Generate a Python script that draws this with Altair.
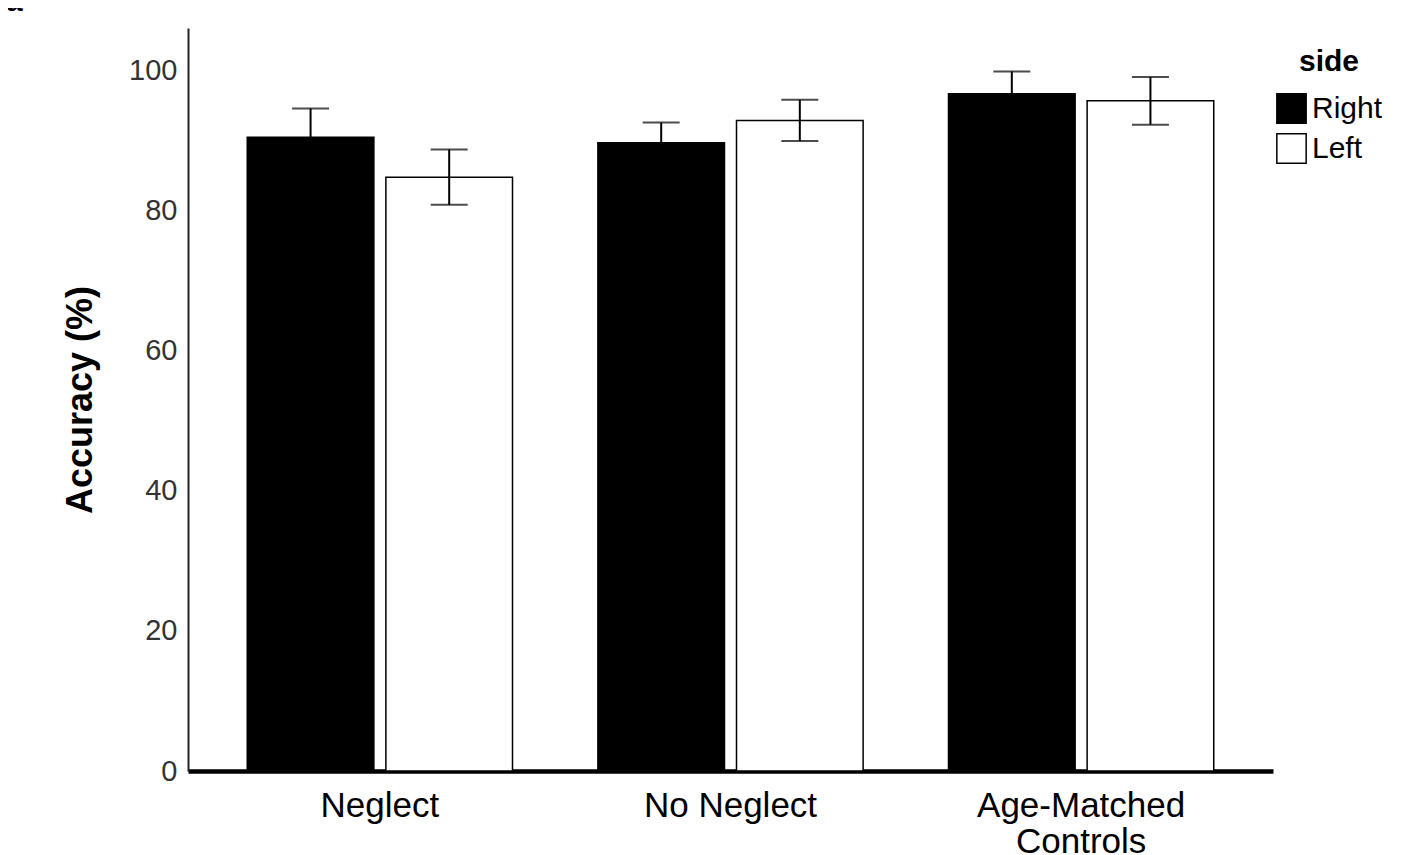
import altair as alt
import pandas as pd

groups = ["Neglect", "No Neglect", "Age-Matched Controls"]
sides = ["Right", "Left"]
right_means = [90.5, 89.7, 96.7]
left_means = [84.8, 92.9, 95.7]
right_err = [4.1, 2.9, 3.2]
left_err = [3.95, 2.95, 3.4]
y_ticks = [0, 20, 40, 60, 80, 100]

rows = []
for i, g in enumerate(groups):
    rows.append({"group": g, "side": "Right", "acc": right_means[i],
                 "lo": right_means[i] - right_err[i], "hi": right_means[i] + right_err[i]})
    rows.append({"group": g, "side": "Left", "acc": left_means[i],
                 "lo": left_means[i] - left_err[i], "hi": left_means[i] + left_err[i]})
df = pd.DataFrame(rows)

FONT = "Liberation Sans"
W, H = 1085, 743

x_enc = alt.X("group:N", sort=groups,
              scale=alt.Scale(paddingInner=0.2435, paddingOuter=0.169),
              axis=alt.Axis(title=None, labelAngle=0, ticks=False, tickSize=0,
                            labelFontSize=35, labelColor="black", labelFont=FONT,
                            labelPadding=17, labelLineHeight=36, labelLimit=0,
                            labelExpr="datum.label == 'Age-Matched Controls' ? ['Age-Matched', 'Controls'] : datum.label",
                            domainColor="black", domainWidth=4.5, grid=False))
xo_enc = alt.XOffset("side:N", sort=sides,
                     scale=alt.Scale(paddingInner=0.0866, paddingOuter=0))
y_scale = alt.Scale(domain=[0, 106.1], nice=False, zero=True)

bars = alt.Chart(df).mark_bar(stroke="black", strokeWidth=1.5).encode(
    x=x_enc,
    xOffset=xo_enc,
    y=alt.Y("acc:Q", scale=y_scale,
            axis=alt.Axis(title="Accuracy (%)", values=y_ticks, ticks=False, tickSize=0,
                          grid=False, labelFontSize=29, labelColor="#333333", labelFont=FONT,
                          labelPadding=11, domainColor="#222222", domainWidth=2,
                          titleFont=FONT, titleFontSize=36, titleFontWeight="bold",
                          titleColor="black", titleX=-108, titleY=H / 2,
                          titleAlign="center", titleBaseline="middle", titleAngle=-90)),
    fill=alt.Fill("side:N", sort=sides,
                  scale=alt.Scale(domain=sides, range=["black", "white"]),
                  legend=alt.Legend(title="side", orient="none", legendX=1088, legendY=19,
                                    titleFont=FONT, titleFontSize=30, titleFontWeight="bold",
                                    titleColor="black", titleAnchor="middle", titlePadding=16,
                                    labelFont=FONT, labelFontSize=30, labelColor="black",
                                    labelOffset=5, symbolType="square", symbolSize=860,
                                    symbolStrokeColor="black", symbolStrokeWidth=1.5,
                                    rowPadding=3)),
)

whisk = alt.Chart(df).mark_rule(color="black", strokeWidth=2).encode(
    x=alt.X("group:N", sort=groups),
    xOffset=alt.XOffset("side:N", sort=sides),
    y=alt.Y("lo:Q"),
    y2="hi:Q",
)

cap_hi = alt.Chart(df).mark_tick(color="black", thickness=2, size=37, orient="horizontal").encode(
    x=alt.X("group:N", sort=groups),
    xOffset=alt.XOffset("side:N", sort=sides),
    y=alt.Y("hi:Q"),
)
cap_lo = alt.Chart(df).mark_tick(color="black", thickness=2, size=37, orient="horizontal").encode(
    x=alt.X("group:N", sort=groups),
    xOffset=alt.XOffset("side:N", sort=sides),
    y=alt.Y("lo:Q"),
)

panel_label = alt.Chart(pd.DataFrame({"t": ["a"]})).mark_text(
    font=FONT, fontSize=30, fontWeight="bold", align="left", baseline="alphabetic", color="black"
).encode(text="t:N", x=alt.value(-182), y=alt.value(-17))

chart = alt.layer(bars, whisk, cap_hi, cap_lo, panel_label).properties(
    width=W, height=H,
    background="white",
    autosize=alt.AutoSizeParams(type="none"),
    padding={"left": 180, "top": 20, "right": 125, "bottom": 83},
).configure_view(strokeWidth=0, stroke="transparent")

chart.save("out.html", embed_options={"renderer": "svg", "actions": False})
